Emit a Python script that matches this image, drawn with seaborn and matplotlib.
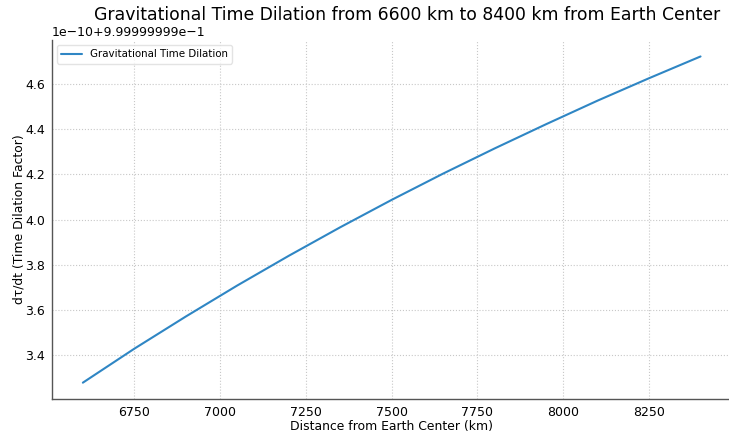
import seaborn as sns
import matplotlib.pyplot as plt
import pandas as pd

# distance (km) and dilation, in units of 1e-10 above 0.999999999
distance_km = [6600, 6750, 6900, 7050, 7200, 7350, 7500, 7650, 7800, 7950, 8100, 8250, 8400]
dilation_e10 = [3.280, 3.430, 3.572, 3.709, 3.840, 3.966, 4.087, 4.203, 4.314, 4.421, 4.525, 4.624, 4.720]

df = pd.DataFrame({
    'distance': distance_km,
    'dilation': [0.999999999 + v * 1e-10 for v in dilation_e10],
})

sns.set_style('white')
plt.rcParams['font.family'] = ['DejaVu Sans']
plt.rcParams['text.color'] = 'black'
plt.rcParams['axes.labelcolor'] = 'black'
plt.rcParams['xtick.color'] = 'black'
plt.rcParams['ytick.color'] = 'black'

fig = plt.figure(figsize=(7.29, 4.36), dpi=100)
ax = fig.add_axes([0.0713, 0.0849, 0.932, 0.823])

sns.lineplot(data=df, x='distance', y='dilation', color='#2f86c4', linewidth=1.5,
             label='Gravitational Time Dilation', ax=ax)

fig.text(0.558, 0.965, 'Gravitational Time Dilation from 6600 km to 8400 km from Earth Center',
         fontsize=12.4, ha='center', va='center', color='black')
ax.set_xlabel('Distance from Earth Center (km)', fontsize=8.9, labelpad=1)
ax.set_ylabel('dτ/dt (Time Dilation Factor)', fontsize=8.9, labelpad=0)
ax.set_xticks([6750, 7000, 7250, 7500, 7750, 8000, 8250])
ax.tick_params(labelsize=9, length=3, direction='in', width=0.6, pad=5,
               color='#bbbbbb', labelcolor='black')
ax.yaxis.get_offset_text().set_fontsize(9)

ax.grid(True, linestyle=':', color='#c8c8c8', linewidth=0.8)
for side in ['top', 'right']:
    ax.spines[side].set_visible(False)
for side in ['left', 'bottom']:
    ax.spines[side].set_color('#555555')
    ax.spines[side].set_linewidth(1.0)

ax.legend(loc='upper left', fontsize=7.4, frameon=True, framealpha=0.8, edgecolor='#dddddd')

fig.savefig('out.png', dpi=100)
